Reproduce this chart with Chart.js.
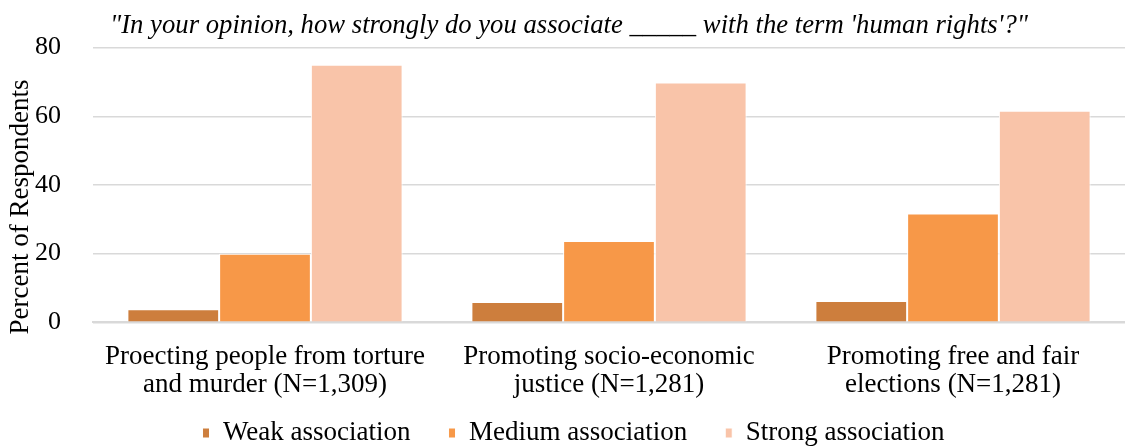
<!DOCTYPE html>
<html>
<head>
<meta charset="utf-8">
<script src="https://cdn.jsdelivr.net/npm/chart.js@4"></script>
<style>
  html, body { margin: 0; padding: 0; background: #fff; overflow: hidden; }
  #wrap { width: 1125px; height: 447px; }
</style>
</head>
<body>
<div id="wrap"><canvas id="assoc"></canvas></div>
<script>
// survey question shown above the plot
const questionText = "\"In your opinion, how strongly do you associate _____ with the term 'human rights'?\"";
const yAxisTitle = 'Percent of Respondents';

const categories = [
    ["Proecting people from torture", "and murder (N=1,309)"],
    ["Promoting socio-economic", "justice (N=1,281)"],
    ["Promoting free and fair", "elections (N=1,281)"]
];
const weakValues = [3.8, 5.9, 6.2];
const mediumValues = [20.0, 23.7, 31.7];
const strongValues = [75.0, 69.8, 61.6];
const yTicks = [0, 20, 40, 60, 80];

const serif = "'Liberation Serif', 'Times New Roman', serif";

// question line on top and the rotated y axis caption
const chartTexts = {
    id: 'chartTexts',
    afterLayout(chart) {
        // pull the legend row up under the category labels, a bit to the right
        const lg = chart.legend;
        if (lg) {
            const h = lg.height;
            lg.top = 381.5;
            lg.bottom = lg.top + h;
            lg.left += 11;
            lg.right += 11;
        }
    },
    afterDraw(chart) {
        const ctx = chart.ctx;
        ctx.save();
        ctx.fillStyle = '#000';
        ctx.textBaseline = 'middle';
        ctx.textAlign = 'left';
        ctx.font = "italic 26.7px " + serif;
        ctx.fillText(questionText, 110, 26);

        ctx.font = "27px " + serif;
        ctx.textAlign = 'center';
        ctx.translate(21, 207);
        ctx.rotate(-Math.PI / 2);
        ctx.fillText(yAxisTitle, 0, 0);
        ctx.restore();
    }
};

const ctx = document.getElementById('assoc').getContext('2d');
const chart = new Chart(ctx, {
    type: 'bar',
    data: {
        labels: categories,
        datasets: [{
            label: 'Weak association',
            data: weakValues,
            backgroundColor: '#CD7E3D',
        }, {
            label: 'Medium association',
            data: mediumValues,
            backgroundColor: '#F79848',
        }, {
            label: 'Strong association',
            data: strongValues,
            backgroundColor: '#F9C4A9',
        }]
    },
    plugins: [chartTexts],
    options: {
        responsive: true,
        maintainAspectRatio: false,
        animation: false,
        layout: {
            padding: { top: 42, right: 0, bottom: -39, left: 0 }
        },
        datasets: {
            bar: {
                borderColor: '#ffffff',
                borderWidth: 1,
                barPercentage: 1,
                categoryPercentage: 0.8,
            }
        },
        scales: {
            x: {
                grid: { display: false },
                border: { display: true, color: '#d9d9d9', width: 2 },
                ticks: {
                    color: '#000',
                    padding: 12,
                    maxRotation: 0,
                    autoSkip: false,
                    font: { family: serif, size: 27, lineHeight: 1.05 }
                }
            },
            y: {
                min: 0,
                max: 80,
                afterBuildTicks: (axis) => {
                    axis.ticks = yTicks.map(v => ({ value: v }));
                },
                afterFit: (axis) => {
                    axis.width = 93;
                },
                grid: { color: '#d9d9d9', lineWidth: 1.5, drawTicks: false },
                border: { display: false },
                ticks: {
                    color: '#000',
                    padding: 32,
                    font: { family: serif, size: 26 }
                }
            }
        },
        plugins: {
            title: { display: false },
            tooltip: { enabled: false },
            legend: {
                display: true,
                position: 'bottom',
                labels: {
                    color: '#000',
                    boxWidth: 7,
                    boxHeight: 10,
                    padding: 38,
                    font: { family: serif, size: 27 }
                }
            }
        }
    }
});
</script>
</body>
</html>
